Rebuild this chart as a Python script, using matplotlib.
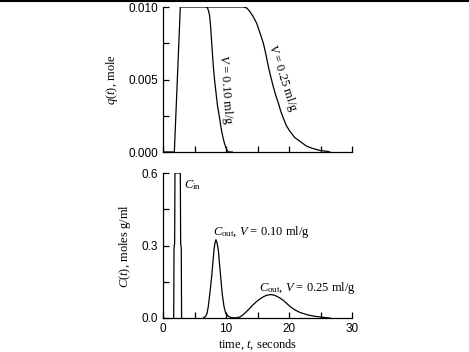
import matplotlib.pyplot as plt
from matplotlib.lines import Line2D
from matplotlib.ticker import MultipleLocator

# q(t), mole  (top panel)
q_rise_t = [0.0, 1.8, 2.75, 6.93]
q_rise = [0.0, 0.0, 0.010, 0.010]

q10_t = [6.93, 7.1, 7.25, 7.4, 7.55, 7.75, 7.99, 8.2, 8.41, 8.65, 8.94, 9.2, 9.47,
         9.75, 10.0, 10.2, 10.4, 11.0]
q10 = [0.010, 0.0099, 0.0097, 0.0094, 0.0087, 0.0074, 0.0059, 0.0049, 0.0041, 0.0032,
       0.00245, 0.0017, 0.0011, 0.0006, 0.00028, 0.0001, 0.0, 0.0]

q25_t = [6.93, 12.75, 13.3, 13.8, 14.3, 14.87, 15.4, 15.93, 16.3, 16.72, 17.1, 17.5,
         17.9, 18.3, 18.7, 19.1, 19.6, 20.16, 20.9, 21.75, 22.8, 23.86, 25.0, 25.98, 26.5]
q25 = [0.010, 0.010, 0.00993, 0.00968, 0.00935, 0.00888, 0.0082, 0.0075, 0.0068, 0.0059,
       0.0052, 0.00452, 0.0039, 0.00339, 0.0028, 0.00234, 0.0018, 0.00142, 0.0010,
       0.00073, 0.0004, 0.00023, 0.0001, 0.00005, 0.0]

# C(t), moles g/ml  (bottom panel)
cin_t = [1.7, 1.75, 1.85, 1.9, 2.75, 2.8, 2.9, 2.95]
cin = [0.0, 0.29, 0.31, 0.6, 0.6, 0.31, 0.29, 0.0]

c10_t = [6.4, 6.8, 7.0, 7.19, 7.45, 7.73, 7.9, 8.1, 8.25, 8.41, 8.58, 8.78, 8.95, 9.15,
         9.4, 9.68, 9.95, 10.37, 10.8, 11.2]
c10 = [0.0, 0.008, 0.02, 0.048, 0.105, 0.172, 0.225, 0.283, 0.31, 0.324, 0.31, 0.283,
       0.23, 0.172, 0.10, 0.048, 0.02, 0.007, 0.002, 0.0]

c25_t = [11.0, 11.6, 12.2, 12.75, 13.3, 13.8, 14.3, 14.85, 15.4, 15.95, 16.46, 17.1,
         17.6, 18.05, 18.6, 19.1, 19.6, 20.16, 20.9, 21.75, 22.8, 23.86, 25.0, 26.0, 26.5]
c25 = [0.0, 0.001, 0.004, 0.014, 0.028, 0.041, 0.055, 0.068, 0.079, 0.088, 0.094, 0.097,
       0.095, 0.090, 0.082, 0.073, 0.061, 0.048, 0.034, 0.023, 0.014, 0.008, 0.004,
       0.001, 0.0]

SERIF = "Liberation Serif"
SANS = "Liberation Sans"

plt.rcParams['mathtext.fontset'] = 'custom'
plt.rcParams['mathtext.rm'] = SERIF
plt.rcParams['mathtext.it'] = SERIF + ':italic'

fig = plt.figure(figsize=(4.69, 3.52), dpi=100)
W, H = 469, 352


def px_axes(left, top, right, bottom):
    return fig.add_axes([left / W, 1 - bottom / H, (right - left) / W, (bottom - top) / H])


ax1 = px_axes(163, 7, 352, 152)
ax2 = px_axes(163, 173, 352, 318)

for ax in (ax1, ax2):
    ax.spines['top'].set_visible(False)
    ax.spines['right'].set_visible(False)
    for s in ('left', 'bottom'):
        ax.spines[s].set_linewidth(0.9)
    ax.set_xlim(0, 30)
    ax.xaxis.set_major_locator(MultipleLocator(10))
    ax.xaxis.set_minor_locator(MultipleLocator(5))
    ax.tick_params(which='both', direction='in', width=0.9, labelsize=8.5)
    ax.tick_params(which='major', length=4)
    ax.tick_params(which='minor', length=4)

# top panel
ax1.plot(q_rise_t, q_rise, color='black', lw=0.9)
ax1.plot(q10_t, q10, color='black', lw=0.9)
ax1.plot(q25_t, q25, color='black', lw=0.9)
ax1.set_ylim(0, 0.010)
ax1.yaxis.set_minor_locator(MultipleLocator(0.0025))
ax1.set_yticks([0.0, 0.005, 0.010], ['0.000', '0.005', '0.010'], family=SANS, fontsize=8.5)
ax1.tick_params(axis='x', labelbottom=False)
ax1.set_ylabel(r'$q(t)$, mole', family=SERIF, fontsize=9, labelpad=6)

ax1.text(9.85, 0.0043, r'$V$ = 0.10 ml/g', rotation=-86, family=SERIF, fontsize=9,
         ha='center', va='center', rotation_mode='anchor')
ax1.text(18.9, 0.0051, r'$V$ = 0.25 ml/g', rotation=-72, family=SERIF, fontsize=9,
         ha='center', va='center', rotation_mode='anchor')

# bottom panel
ax2.plot(cin_t, cin, color='black', lw=0.9)
ax2.plot(c10_t, c10, color='black', lw=0.9)
ax2.plot(c25_t, c25, color='black', lw=0.9)
ax2.set_ylim(0, 0.6)
ax2.yaxis.set_minor_locator(MultipleLocator(0.15))
ax2.set_yticks([0.0, 0.3, 0.6], ['0.0', '0.3', '0.6'], family=SANS, fontsize=8.5)
ax2.set_xticks([0, 10, 20, 30], ['0', '10', '20', '30'], family=SANS, fontsize=8.5)
ax2.set_ylabel(r'$C(t)$, moles g/ml', family=SERIF, fontsize=9, labelpad=6)
ax2.set_xlabel(r'time, $t$, seconds', family=SERIF, fontsize=9, labelpad=2)

ax2.text(3.4, 0.55, r'$C_{\mathrm{in}}$', family=SERIF, fontsize=9, va='center')
ax2.text(7.9, 0.355, r'$C_{\mathrm{out}}$, $V$ = 0.10 ml/g', family=SERIF, fontsize=9, va='center')
ax2.text(15.3, 0.125, r'$C_{\mathrm{out}}$, $V$ = 0.25 ml/g', family=SERIF, fontsize=9, va='center')

# border line at top of page
fig.add_artist(Line2D([0, 1], [1 - 1 / H, 1 - 1 / H], color='black', lw=1.5,
                      transform=fig.transFigure))

fig.savefig('out.png', dpi=100)
